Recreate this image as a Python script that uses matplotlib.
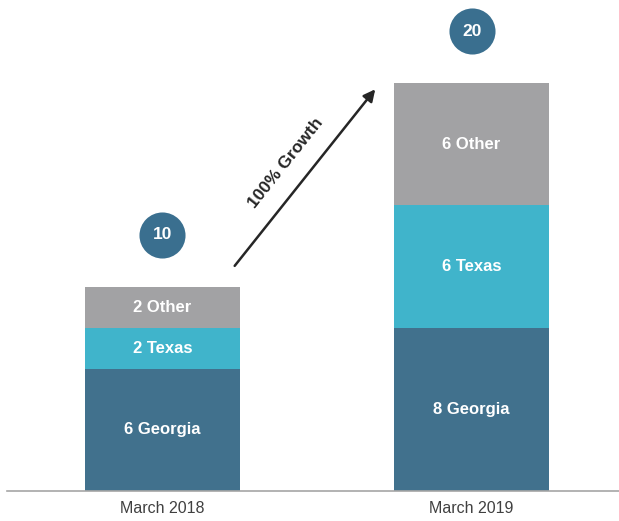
import matplotlib
matplotlib.use("Agg")
import matplotlib.pyplot as plt

categories = ["March 2018", "March 2019"]
segments = ["Georgia", "Texas", "Other"]
georgia = [6, 8]
texas = [2, 6]
other = [2, 6]
totals = [10, 20]
growth_label = "100% Growth"

colors = {"Georgia": "#41718D", "Texas": "#40B4CB", "Other": "#A2A2A4"}
circle_color = "#3A6F8F"

plt.rcParams["font.family"] = ["Liberation Sans", "DejaVu Sans"]

fig = plt.figure(figsize=(6.19, 5.21), dpi=100)
ax = fig.add_axes([7 / 619, 30 / 521, 612 / 619, 491 / 521])

x = list(range(len(categories)))
width = 0.5
bottom = [0] * len(categories)
for name, vals in zip(segments, [georgia, texas, other]):
    ax.bar(x, vals, width=width, bottom=bottom, color=colors[name], edgecolor="none")
    for xi, v, b in zip(x, vals, bottom):
        ax.text(xi, b + v / 2, f"{v} {name}", ha="center", va="center",
                color="white", fontsize=12, fontweight="bold")
    bottom = [b + v for b, v in zip(bottom, vals)]

# total circles
for xi, t in zip(x, totals):
    ax.scatter([xi], [t + 2.55], s=1100, color=circle_color, zorder=5, linewidths=0)
    ax.text(xi, t + 2.55, str(t), ha="center", va="center", color="white",
            fontsize=12.5, fontweight="bold", zorder=6)

# growth arrow
ax.annotate("", xy=(0.694, 19.8), xytext=(0.228, 10.93),
            arrowprops=dict(arrowstyle="-|>,head_length=0.7,head_width=0.35",
                            color="#262626", lw=1.8))
ax.text(0.40, 16.1, growth_label, rotation=51.5, rotation_mode="anchor",
        ha="center", va="center", fontsize=12.5, fontweight="bold", color="#262626")

ax.set_xlim(-0.503, 1.477)
ax.set_ylim(0, 24.07)
for s in ["top", "right", "left"]:
    ax.spines[s].set_visible(False)
ax.spines["bottom"].set_color("#A6A6A6")
ax.spines["bottom"].set_linewidth(1.2)
ax.set_yticks([])
ax.set_xticks(x)
ax.set_xticklabels(categories, fontsize=11.5, color="#404040")
ax.tick_params(axis="x", length=0, pad=7)

fig.savefig("out.png", dpi=100)
